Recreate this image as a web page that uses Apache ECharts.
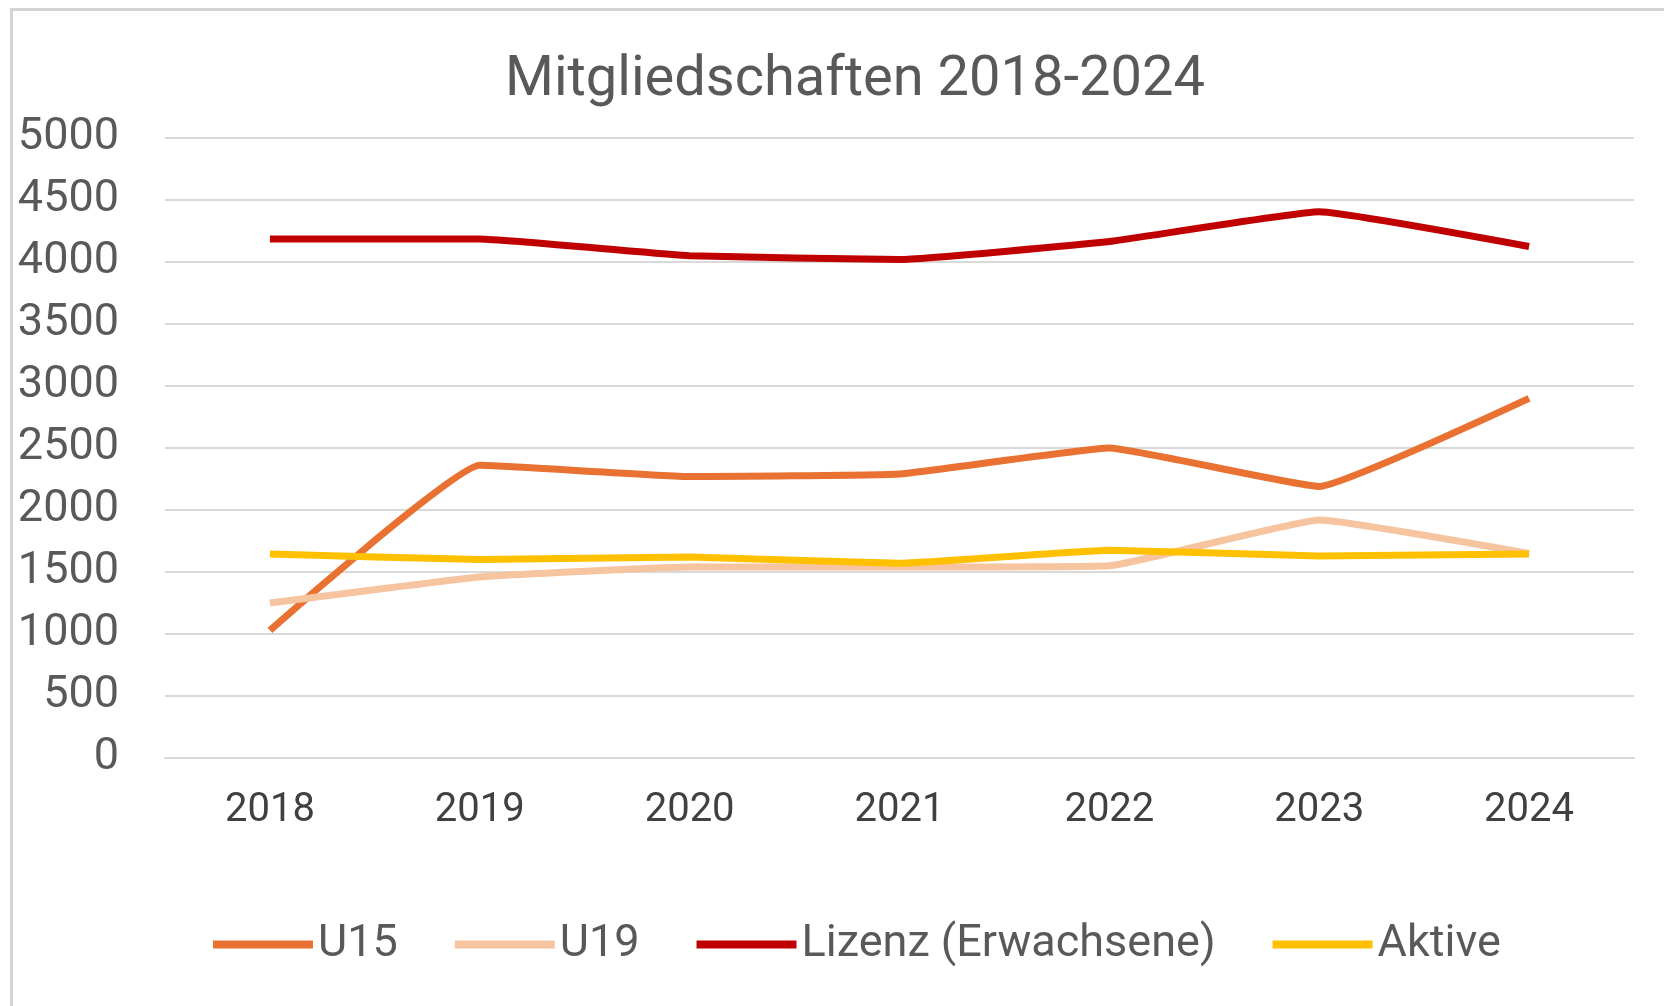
<!DOCTYPE html>
<html>
<head>
<meta charset="utf-8">
<script src="https://cdn.jsdelivr.net/npm/echarts@6/dist/echarts.min.js"></script>
<style>
  html, body { margin: 0; padding: 0; background: #fff; }
  #chart { width: 1664px; height: 1006px; }
  .frame {
    position: absolute; left: 10px; top: 8px; right: 0; bottom: 0;
    border-top: 3px solid #d4d4d4; border-left: 3px solid #d4d4d4;
    pointer-events: none;
  }
</style>
</head>
<body>
<div id="chart"></div>
<div class="frame"></div>
<script>
const years = ['2018', '2019', '2020', '2021', '2022', '2023', '2024'];
const u15 = [1030, 2360, 2270, 2290, 2500, 2190, 2900];
const u19 = [1250, 1460, 1540, 1540, 1550, 1920, 1650];
const lizenz = [4185, 4185, 4050, 4020, 4165, 4405, 4125];
const aktive = [1645, 1600, 1620, 1570, 1675, 1630, 1645];
const yTicks = [0, 500, 1000, 1500, 2000, 2500, 3000, 3500, 4000, 4500, 5000];

const chart = echarts.init(document.getElementById('chart'));

function lineSeries(name, data, color) {
  return {
    name: name,
    type: 'line',
    data: data,
    smooth: 0.1,
    symbol: 'none',
    lineStyle: { color: color, width: 7 },
    itemStyle: { color: color }
  };
}

const option = {
  backgroundColor: '#fff',
  textStyle: { fontFamily: 'Roboto' },
  title: {
    text: 'Mitgliedschaften 2018-2024',
    left: 500,
    top: 48,
    textStyle: { fontSize: 56, fontWeight: 'normal', color: '#595959', fontFamily: 'Roboto' }
  },
  grid: { left: 165, right: 30, top: 138, bottom: 248 },
  legend: {
    bottom: 34,
    left: 208,
    icon: 'rect',
    itemWidth: 100,
    itemHeight: 8,
    itemGap: 57,
    textStyle: { fontSize: 45, color: '#595959', fontFamily: 'Roboto' },
    data: ['U15', 'U19', 'Lizenz (Erwachsene)', 'Aktive']
  },
  xAxis: {
    type: 'category',
    data: years,
    boundaryGap: true,
    axisLine: { show: true, lineStyle: { color: '#d9d9d9', width: 2 } },
    axisTick: { show: false },
    axisLabel: { fontSize: 40, color: '#404040', margin: 33 }
  },
  yAxis: {
    type: 'value',
    min: yTicks[0],
    max: yTicks[yTicks.length - 1],
    interval: 500,
    axisLine: { show: false },
    axisTick: { show: false },
    axisLabel: { fontSize: 45, color: '#595959', margin: 46, formatter: v => String(v) },
    splitLine: { lineStyle: { color: '#d9d9d9', width: 2 } }
  },
  series: [
    lineSeries('U15', u15, '#E97132'),
    lineSeries('U19', u19, '#F7C4A0'),
    lineSeries('Lizenz (Erwachsene)', lizenz, '#C00000'),
    lineSeries('Aktive', aktive, '#FFC000')
  ]
};

chart.setOption(option);
</script>
</body>
</html>
